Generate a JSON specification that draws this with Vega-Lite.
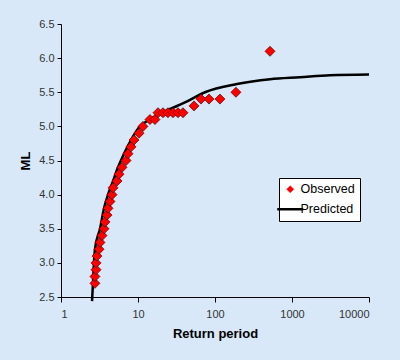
{
  "$schema": "https://vega.github.io/schema/vega-lite/v6.json",
  "width": 308,
  "height": 273,
  "autosize": {"type": "none"},
  "padding": {"left": 61, "top": 24, "right": 31, "bottom": 63},
  "background": "#d8e8f8",
  "config": {
    "view": {"stroke": null},
    "font": "Liberation Sans",
    "axis": {
      "domainColor": "black",
      "tickColor": "black",
      "labelColor": "#333333",
      "labelFont": "Liberation Sans",
      "labelFontSize": 11,
      "titleFont": "Liberation Sans",
      "titleFontSize": 13,
      "titleFontWeight": "bold",
      "titleColor": "black",
      "grid": false
    }
  },
  "datasets": {
    "observed": [
      {"T": 2.76, "ML": 2.7, "series": "Observed"},
      {"T": 2.76, "ML": 2.8, "series": "Observed"},
      {"T": 2.85, "ML": 2.9, "series": "Observed"},
      {"T": 2.85, "ML": 3.0, "series": "Observed"},
      {"T": 2.93, "ML": 3.1, "series": "Observed"},
      {"T": 3.12, "ML": 3.2, "series": "Observed"},
      {"T": 3.21, "ML": 3.3, "series": "Observed"},
      {"T": 3.41, "ML": 3.4, "series": "Observed"},
      {"T": 3.62, "ML": 3.5, "series": "Observed"},
      {"T": 3.73, "ML": 3.6, "series": "Observed"},
      {"T": 3.96, "ML": 3.7, "series": "Observed"},
      {"T": 4.08, "ML": 3.8, "series": "Observed"},
      {"T": 4.33, "ML": 3.9, "series": "Observed"},
      {"T": 4.6, "ML": 4.0, "series": "Observed"},
      {"T": 4.74, "ML": 4.1, "series": "Observed"},
      {"T": 5.34, "ML": 4.2, "series": "Observed"},
      {"T": 5.67, "ML": 4.3, "series": "Observed"},
      {"T": 6.2, "ML": 4.4, "series": "Observed"},
      {"T": 6.99, "ML": 4.5, "series": "Observed"},
      {"T": 7.42, "ML": 4.6, "series": "Observed"},
      {"T": 8.11, "ML": 4.7, "series": "Observed"},
      {"T": 8.87, "ML": 4.8, "series": "Observed"},
      {"T": 10.3, "ML": 4.9, "series": "Observed"},
      {"T": 11.6, "ML": 5.0, "series": "Observed"},
      {"T": 14.3, "ML": 5.1, "series": "Observed"},
      {"T": 16.6, "ML": 5.1, "series": "Observed"},
      {"T": 18.2, "ML": 5.2, "series": "Observed"},
      {"T": 21.1, "ML": 5.2, "series": "Observed"},
      {"T": 24.5, "ML": 5.2, "series": "Observed"},
      {"T": 28.5, "ML": 5.2, "series": "Observed"},
      {"T": 33.1, "ML": 5.2, "series": "Observed"},
      {"T": 38.4, "ML": 5.2, "series": "Observed"},
      {"T": 53.4, "ML": 5.3, "series": "Observed"},
      {"T": 65.8, "ML": 5.4, "series": "Observed"},
      {"T": 83.5, "ML": 5.4, "series": "Observed"},
      {"T": 116, "ML": 5.4, "series": "Observed"},
      {"T": 187, "ML": 5.5, "series": "Observed"},
      {"T": 518, "ML": 6.1, "series": "Observed"}
    ],
    "predicted": [
      {"T": 2.53, "ML": 2.44, "series": "Predicted"},
      {"T": 2.6, "ML": 2.7, "series": "Predicted"},
      {"T": 2.68, "ML": 3.0, "series": "Predicted"},
      {"T": 2.76, "ML": 3.2, "series": "Predicted"},
      {"T": 3.21, "ML": 3.5, "series": "Predicted"},
      {"T": 3.62, "ML": 3.8, "series": "Predicted"},
      {"T": 4.08, "ML": 4.0, "series": "Predicted"},
      {"T": 4.74, "ML": 4.2, "series": "Predicted"},
      {"T": 5.5, "ML": 4.4, "series": "Predicted"},
      {"T": 6.58, "ML": 4.6, "series": "Predicted"},
      {"T": 8.11, "ML": 4.8, "series": "Predicted"},
      {"T": 10.6, "ML": 5.0, "series": "Predicted"},
      {"T": 14.3, "ML": 5.1, "series": "Predicted"},
      {"T": 22.4, "ML": 5.22, "series": "Predicted"},
      {"T": 40.7, "ML": 5.35, "series": "Predicted"},
      {"T": 74.1, "ML": 5.5, "series": "Predicted"},
      {"T": 193, "ML": 5.62, "series": "Predicted"},
      {"T": 520, "ML": 5.69, "series": "Predicted"},
      {"T": 1270, "ML": 5.72, "series": "Predicted"},
      {"T": 3120, "ML": 5.75, "series": "Predicted"},
      {"T": 10000, "ML": 5.76, "series": "Predicted"}
    ]
  },
  "encoding": {
    "x": {
      "field": "T",
      "type": "quantitative",
      "scale": {"type": "log", "domain": [1, 10000], "nice": false},
      "axis": {"title": "Return period", "values": [1, 10, 100, 1000, 10000], "format": "d", "tickSize": 5, "labelPadding": 6, "titlePadding": 8}
    },
    "y": {
      "field": "ML",
      "type": "quantitative",
      "scale": {"domain": [2.5, 6.5], "nice": false, "zero": false},
      "axis": {"title": "ML", "values": [2.5, 3.0, 3.5, 4.0, 4.5, 5.0, 5.5, 6.0, 6.5], "format": ".1f", "tickSize": 4, "labelPadding": 3, "titlePadding": 6}
    },
    "color": {
      "field": "series",
      "type": "nominal",
      "scale": {"domain": ["Observed", "Predicted"], "range": ["#ff0000", "#000000"]},
      "legend": {
        "title": null,
        "orient": "none",
        "legendX": 218,
        "legendY": 154,
        "fillColor": "white",
        "strokeColor": "black",
        "padding": 5,
        "labelFont": "Liberation Sans",
        "labelFontSize": 12.5,
        "labelColor": "black",
        "symbolSize": 676,
        "rowPadding": 7,
        "labelOffset": 4,
        "encode": {
          "symbols": {
            "update": {
              "shape": {"signal": "datum.value === 'Predicted' ? 'stroke' : 'diamond'"},
              "size": {"signal": "datum.value === 'Predicted' ? 676 : 50"},
              "strokeWidth": {"signal": "datum.value === 'Predicted' ? 2.5 : 0.5"},
              "stroke": {"signal": "datum.value === 'Predicted' ? 'black' : '#600000'"},
              "fill": {"signal": "datum.value === 'Predicted' ? 'black' : '#ff0000'"}
            }
          }
        }
      }
    }
  },
  "layer": [
    {
      "data": {"name": "predicted"},
      "mark": {"type": "line", "strokeWidth": 2.5, "interpolate": "monotone", "clip": false}
    },
    {
      "data": {"name": "observed"},
      "mark": {"type": "point", "shape": "diamond", "filled": true, "size": 100, "opacity": 1, "stroke": "#500000", "strokeWidth": 0.7}
    }
  ]
}
